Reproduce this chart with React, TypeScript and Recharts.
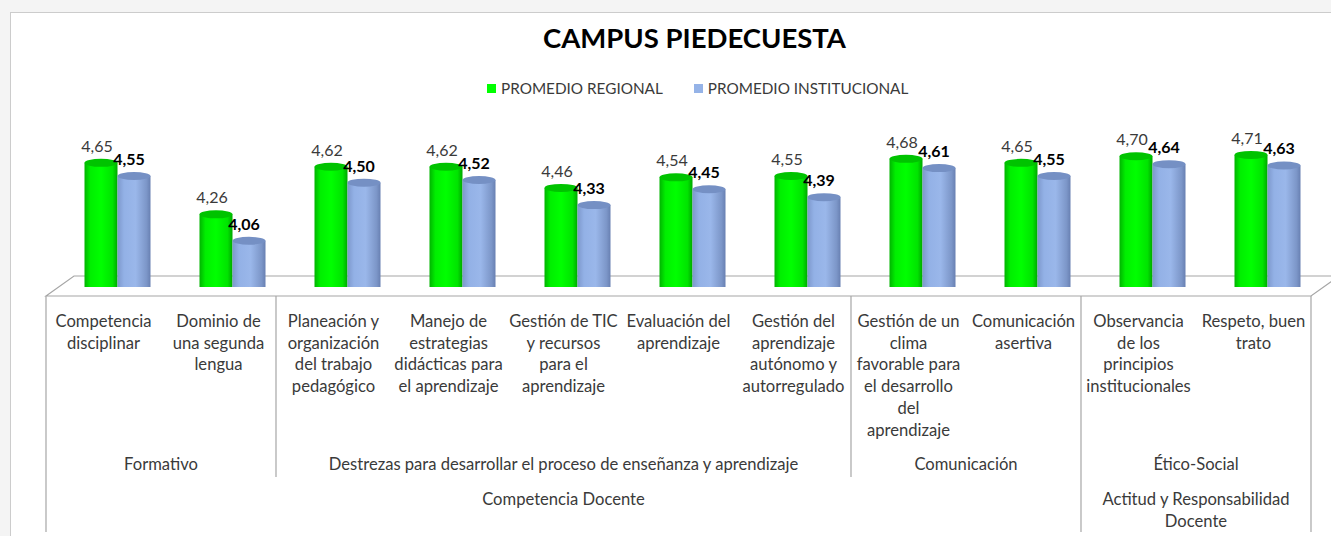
import React from "react";
import { Bar, BarChart, LabelList, XAxis, YAxis } from "recharts";

const W = 1331;
const H = 536;

const seriesNames = ["PROMEDIO REGIONAL", "PROMEDIO INSTITUCIONAL"];

const categoryLines = [
  ["Competencia", "disciplinar"],
  ["Dominio de", "una segunda", "lengua"],
  ["Planeación y", "organización", "del trabajo", "pedagógico"],
  ["Manejo de", "estrategias", "didácticas para", "el aprendizaje"],
  ["Gestión de TIC", "y recursos", "para el", "aprendizaje"],
  ["Evaluación del", "aprendizaje"],
  ["Gestión del", "aprendizaje", "autónomo y", "autorregulado"],
  ["Gestión de un", "clima", "favorable para", "el desarrollo", "del", "aprendizaje"],
  ["Comunicación", "asertiva"],
  ["Observancia", "de los", "principios", "institucionales"],
  ["Respeto, buen", "trato"],
];

const regional = [4.65, 4.26, 4.62, 4.62, 4.46, 4.54, 4.55, 4.68, 4.65, 4.7, 4.71];
const institucional = [4.55, 4.06, 4.5, 4.52, 4.33, 4.45, 4.39, 4.61, 4.55, 4.64, 4.63];

const groupNames = [
  "Formativo",
  "Destrezas para desarrollar el proceso de enseñanza y aprendizaje",
  "Comunicación",
  "Ético-Social",
];
const groupSpans = [2, 5, 2, 2];

const sectionNames = [["Competencia Docente"], ["Actitud y Responsabilidad", "Docente"]];
const sectionSpans = [9, 2];

const data = categoryLines.map((lines, i) => ({
  name: lines.join(" "),
  regional: regional[i],
  institucional: institucional[i],
}));

// plot geometry
const LEFT = 46;
const RIGHT = 1311;
const BASE = 287;
const TOP = 139;
const CAT_W = (RIGHT - LEFT) / categoryLines.length;
const DEPTH_X = 13.5;
const FONT = "Lato, 'Open Sans', sans-serif";
const TEXT = "#3a3a3a";
const LINE = "#a6a6a6";
const FS = 16.6;

const fmt = (v: number) => v.toFixed(2).replace(".", ",");

function Cylinder(props: any) {
  const { x, y, width, height, fillId, topFill } = props;
  if (width == null || height == null) return null;
  const ry = 4;
  const left = x + DEPTH_X;
  const rx = width / 2;
  const bottom = y + height;
  const d = `M${left},${y + ry} L${left},${bottom} A${rx},${ry} 0 0 0 ${left + width},${bottom} L${left + width},${y + ry} Z`;
  return (
    <g>
      <path d={d} fill={`url(#${fillId})`} />
      <ellipse cx={left + rx} cy={y + ry} rx={rx} ry={ry} fill={topFill} />
    </g>
  );
}

function CategoryTick(props: any) {
  const { x, index } = props;
  const lines = categoryLines[index] || [];
  return (
    <text textAnchor="middle" fontFamily={FONT} fontSize={FS} fill={TEXT}>
      {lines.map((l, i) => (
        <tspan key={i} x={x} y={327 + i * 21.7}>
          {l}
        </tspan>
      ))}
    </text>
  );
}

function valueLabel(bold: boolean, shift: number) {
  return (props: any) => {
    const { x, y, width, value } = props;
    return (
      <text
        x={x + DEPTH_X + width / 2 + shift}
        y={y - 7}
        textAnchor="middle"
        fontFamily={FONT}
        fontSize={16}
        fontWeight={bold ? 700 : 400}
        fill={bold ? "#000" : TEXT}
      >
        {fmt(Number(value))}
      </text>
    );
  };
}

function Background() {
  const bounds: number[] = [0];
  groupSpans.forEach((s) => bounds.push(bounds[bounds.length - 1] + s));
  const sBounds: number[] = [0];
  sectionSpans.forEach((s) => sBounds.push(sBounds[sBounds.length - 1] + s));
  const xAt = (i: number) => LEFT + i * CAT_W;
  return (
    <svg width={W} height={H} style={{ position: "absolute", left: 0, top: 0 }}>
      <defs>
        <linearGradient id="gGreen" x1="0" x2="1" y1="0" y2="0">
          <stop offset="0%" stopColor="#00b400" />
          <stop offset="18%" stopColor="#00ef00" />
          <stop offset="50%" stopColor="#00ff00" />
          <stop offset="85%" stopColor="#00e400" />
          <stop offset="100%" stopColor="#00a800" />
        </linearGradient>
        <linearGradient id="gBlue" x1="0" x2="1" y1="0" y2="0">
          <stop offset="0%" stopColor="#7d98cc" />
          <stop offset="20%" stopColor="#93b1e6" />
          <stop offset="55%" stopColor="#9ab7ea" />
          <stop offset="88%" stopColor="#7c96c8" />
          <stop offset="100%" stopColor="#6880b2" />
        </linearGradient>
      </defs>
      {/* floor */}
      <polygon
        points={`${LEFT},296 ${LEFT + 28},276 ${RIGHT + 28},276 ${RIGHT},296`}
        fill="#fff"
        stroke={LINE}
        strokeWidth={1.2}
      />
      {/* table lines */}
      {bounds.map((b, i) => {
        const long = sBounds.includes(b);
        return (
          <line
            key={"b" + i}
            x1={xAt(b)}
            x2={xAt(b)}
            y1={296}
            y2={long ? 532 : 477}
            stroke={LINE}
            strokeWidth={1.2}
          />
        );
      })}
      {groupNames.map((g, i) => (
        <text
          key={"g" + i}
          x={(xAt(bounds[i]) + xAt(bounds[i + 1])) / 2}
          y={470}
          textAnchor="middle"
          fontFamily={FONT}
          fontSize={FS}
          fill={TEXT}
        >
          {g}
        </text>
      ))}
      {sectionNames.map((lines, i) => (
        <text
          key={"s" + i}
          textAnchor="middle"
          fontFamily={FONT}
          fontSize={FS}
          fill={TEXT}
        >
          {lines.map((l, j) => (
            <tspan key={j} x={(xAt(sBounds[i]) + xAt(sBounds[i + 1])) / 2} y={505 + j * 22}>
              {l}
            </tspan>
          ))}
        </text>
      ))}
    </svg>
  );
}

export default function App() {
  return (
    <div
      style={{
        position: "absolute",
        left: 0,
        top: 0,
        width: W,
        height: H,
        overflow: "hidden",
        background: "#f4f4f4",
      }}
    >
      <div
        style={{
          position: "absolute",
          left: 10,
          top: 12,
          width: 1400,
          height: 600,
          background: "#fff",
          border: "1.5px solid #cccccc",
        }}
      />
      <Background />
      <div
        style={{
          position: "absolute",
          left: 0,
          width: W,
          top: 21,
          textAlign: "center",
          paddingLeft: 58,
          boxSizing: "border-box",
          fontFamily: FONT,
          fontWeight: 700,
          fontSize: 27.5,
          color: "#000",
        }}
      >
        CAMPUS PIEDECUESTA
      </div>
      <div
        style={{
          position: "absolute",
          left: 487,
          top: 79,
          display: "flex",
          gap: 31,
          fontFamily: FONT,
          fontSize: 15.3,
          color: TEXT,
        }}
      >
        {seriesNames.map((n, i) => (
          <span key={n} style={{ display: "flex", alignItems: "center", gap: 5 }}>
            <span
              style={{
                width: 9,
                height: 9,
                background: i === 0 ? "#00ff00" : "#95b3e7",
                display: "inline-block",
              }}
            />
            {n}
          </span>
        ))}
      </div>
      <div style={{ position: "absolute", left: 0, top: 0 }}>
        <BarChart
          width={W}
          height={H}
          data={data}
          margin={{ top: TOP, right: W - RIGHT, left: LEFT, bottom: H - BASE - 30 }}
          barSize={33}
          barGap={0}
        >
          <XAxis
            dataKey="name"
            axisLine={false}
            tickLine={false}
            interval={0}
            height={30}
            tick={<CategoryTick />}
          />
          <YAxis hide domain={[3.68, 4.8]} allowDataOverflow />
          <Bar
            dataKey="regional"
            name={seriesNames[0]}
            isAnimationActive={false}
            shape={(p: any) => <Cylinder {...p} fillId="gGreen" topFill="#00c300" />}
          >
            <LabelList dataKey="regional" content={valueLabel(false, -4)} />
          </Bar>
          <Bar
            dataKey="institucional"
            name={seriesNames[1]}
            isAnimationActive={false}
            shape={(p: any) => <Cylinder {...p} fillId="gBlue" topFill="#7590c4" />}
          >
            <LabelList dataKey="institucional" content={valueLabel(true, -5)} />
          </Bar>
        </BarChart>
      </div>
    </div>
  );
}
